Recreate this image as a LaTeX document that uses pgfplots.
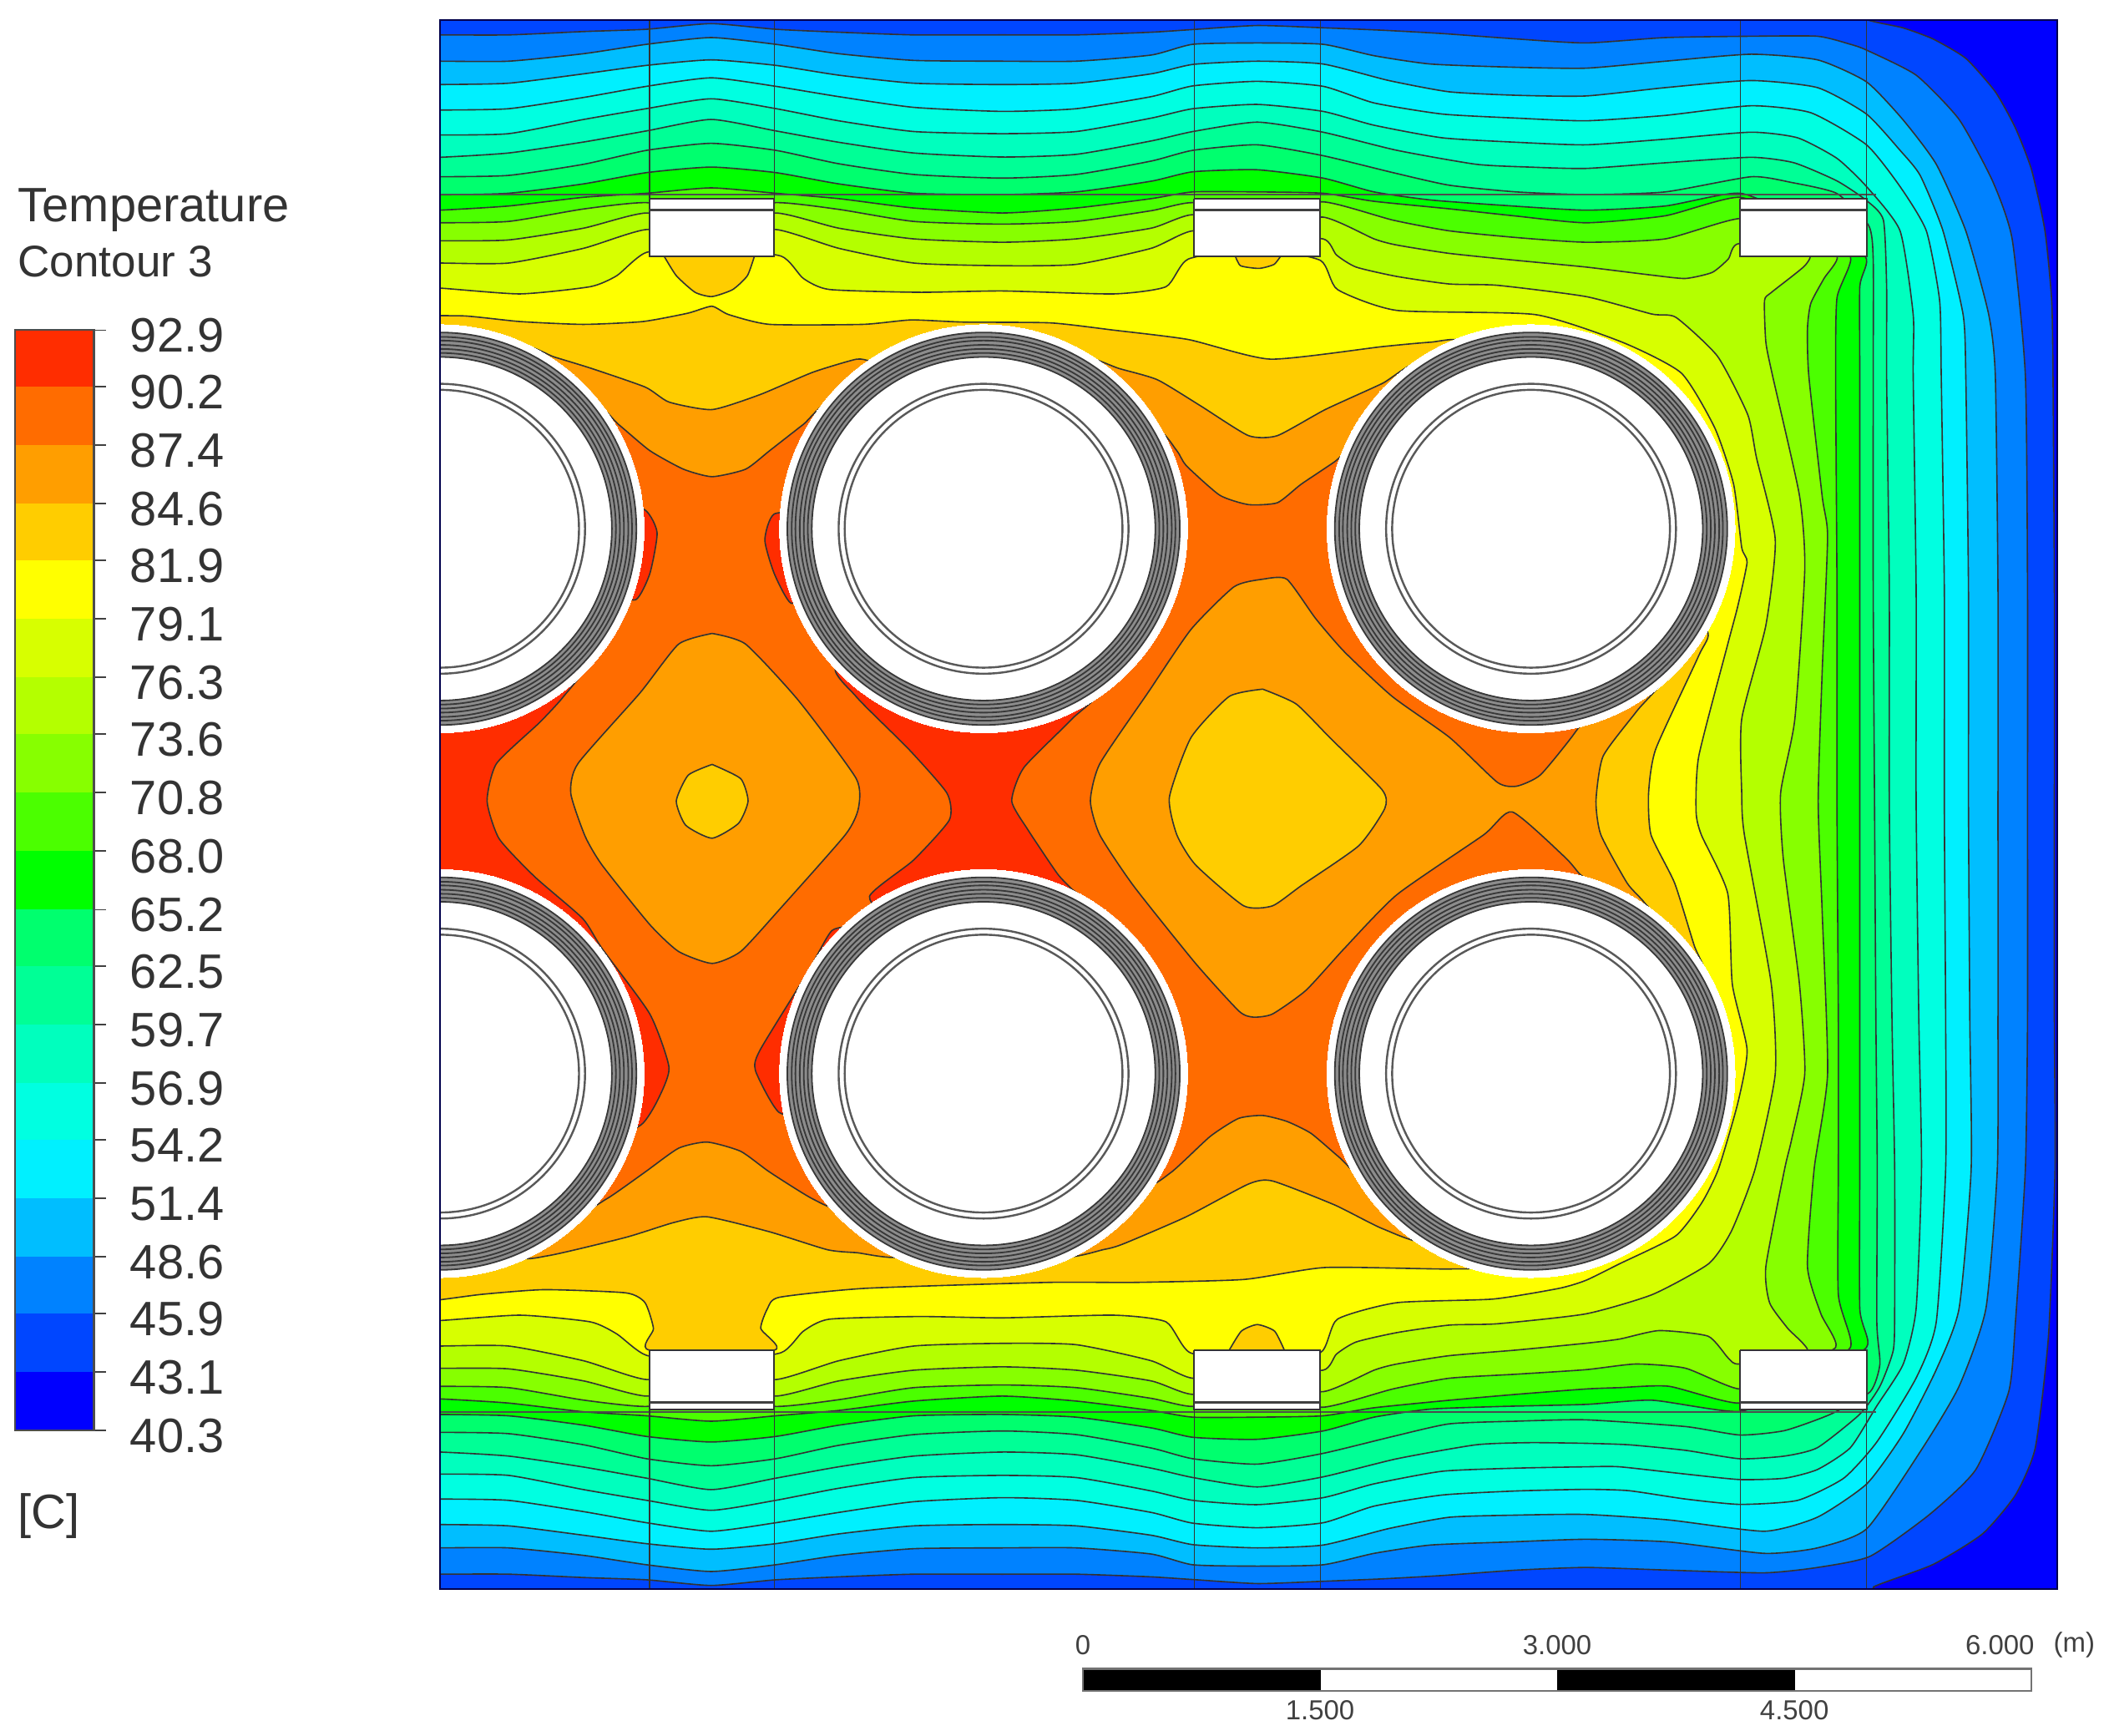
\documentclass[border=0pt]{standalone}
\usepackage{fontspec}
\setmainfont{Liberation Sans}
\usepackage{pgfplots}
\usepackage{pgfplotstable}
\pgfplotsset{compat=1.18}
\definecolor{b40}{RGB}{0,0,255}
\definecolor{b43}{RGB}{0,70,255}
\definecolor{b46}{RGB}{0,130,255}
\definecolor{b49}{RGB}{0,190,255}
\definecolor{b51}{RGB}{0,240,255}
\definecolor{b54}{RGB}{0,255,225}
\definecolor{b57}{RGB}{0,255,190}
\definecolor{b60}{RGB}{0,255,150}
\definecolor{b62}{RGB}{0,255,110}
\definecolor{b65}{RGB}{0,255,0}
\definecolor{b68}{RGB}{75,255,0}
\definecolor{b71}{RGB}{135,255,0}
\definecolor{b74}{RGB}{180,255,0}
\definecolor{b76}{RGB}{215,255,0}
\definecolor{b79}{RGB}{255,255,0}
\definecolor{b82}{RGB}{255,205,0}
\definecolor{b85}{RGB}{255,158,0}
\definecolor{b87}{RGB}{255,108,0}
\definecolor{b90}{RGB}{255,45,0}
\pgfplotstableread{
x y
328 394
733 394
1141 394
328 800
733 800
1141 800
}\pipes
\pgfplotsset{
  lev/.style={smooth,tension=0.35,fill=#1,draw=black!80,line width=0.4pt,no markers},
  geo/.style={draw=black!80,line width=0.4pt,no markers},
  box/.style={fill=white,draw=black!80,line width=0.5pt,no markers},
  ring/.style={only marks,mark=o,mark size=#1,mark options={draw=black!78,line width=0.45pt}},
  iring/.style={only marks,mark=o,mark size=#1,mark options={draw=black!65,line width=0.6pt}},
}
\newcommand{\tsz}{\fontsize{14.4}{17}\selectfont}
\begin{document}
\begin{tikzpicture}[x=1pt,y=1pt]
\path[use as bounding box] (0,0) rectangle (627.2,517.2);
% ------------------------------------------------ field
\begin{axis}[at={(131.2pt,43.6pt)},anchor=south west,scale only axis,width=482pt,height=467.6pt,
  xmin=328,xmax=1533,ymin=15,ymax=1184,y dir=reverse,xtick=\empty,ytick=\empty,
  axis line style={draw=black!70!blue,line width=0.5pt},clip=true,clip marker paths=true,axis on top]
\addplot[fill=b40,draw=none,no markers] coordinates {(300,0)(1560,0)(1560,1200)(300,1200)};
\addplot[lev=b43] coordinates {(300,0)(1370,0)(1391,14.5)(1418,20.7)(1440.5,29)(1465,43.5)(1487,68.4)(1502,95.4)(1514,126.5)(1524,172)(1529,224)(1530,280)(1531,440)(1531,600)(1531,760)(1531.5,871)(1526.6,995.7)(1516.8,1078.7)(1502,1114)(1477.4,1143)(1440.5,1165.8)(1396.3,1182.4)(1370,1200)(300,1200)};
\addplot[lev=b46] coordinates {(300,26)(328,26)(379,26)(435,23.5)(482,21.8)(530,17.6)(578,21.8)(625,24)(681,26)(747,26)(802,26)(858,24)(889,22)(937,19)(986,20.7)(1030,22.5)(1075,25)(1130,29)(1182,32)(1241,28)(1305,27)(1354.5,27)(1379,33)(1391,37.3)(1428,56)(1460,89)(1485,135)(1499.6,178.4)(1509.4,280)(1511,440)(1511,600)(1511,760)(1509.4,871)(1502,985)(1497,1037)(1472.5,1095)(1438,1128.5)(1393.8,1159.6)(1354.5,1168)(1315,1172)(1243.8,1170)(1182,1168)(1130,1170)(1075,1174)(1030,1176.5)(986,1178.3)(937,1180)(889,1177)(858,1175)(802,1173)(747,1173)(681,1173)(625,1175)(578,1177.2)(530,1181.4)(482,1177.2)(435,1175.5)(379,1173)(328,1173)(300,1173)};
\addplot[lev=b49] coordinates {(300,45.6)(328,45.6)(379,45.6)(435,40)(482,33)(530,28)(578,33)(625,40)(681,45)(747,45.6)(802,45.6)(858,41)(889,33)(937,32)(986,33)(1024,41.5)(1066,47.7)(1125,50)(1182,50.8)(1241,45.6)(1305,40.4)(1354.5,44.6)(1391,61)(1418,89)(1443,122.4)(1465,172)(1482,234)(1487,280)(1489,440)(1489,600)(1489,760)(1488.5,871)(1480,975)(1460,1033)(1433,1078.7)(1391.3,1139)(1354.5,1153.4)(1315,1157.5)(1243.8,1149)(1182,1147)(1125,1149)(1066,1151.3)(1024,1157.5)(986,1166)(937,1167)(889,1166)(858,1158)(802,1153.4)(747,1153.4)(681,1154)(625,1159)(578,1166)(530,1171)(482,1166)(435,1159)(379,1153.4)(328,1153.4)(300,1153.4)};
\addplot[lev=b51] coordinates {(300,63)(328,63)(379,62)(435,55)(482,48.7)(530,44.6)(578,48.7)(625,56)(681,62)(747,63)(802,62)(858,55)(889,48)(937,45.6)(986,47.7)(1035,60)(1080,68.4)(1130,71)(1182,71.5)(1241,65.3)(1305,60)(1354.5,65.3)(1391,85)(1416,112)(1431,130.7)(1448,172)(1463,234.4)(1465,280)(1467,440)(1467,600)(1468,760)(1469,871)(1460,975)(1443,1020.6)(1418.4,1068.3)(1391.3,1105.6)(1354.5,1130.5)(1315,1141)(1243.8,1132.6)(1182,1128.5)(1130,1129)(1080,1130.6)(1035,1139)(986,1151.3)(937,1153.4)(889,1151)(858,1144)(802,1137)(747,1136)(681,1137)(625,1143)(578,1150.3)(530,1154.4)(482,1150.3)(435,1144)(379,1137)(328,1136)(300,1136)};
\addplot[lev=b54] coordinates {(300,82)(328,82)(379,81)(435,72.6)(482,64.3)(530,58)(578,64.3)(625,72)(681,80)(747,83)(802,81)(858,72)(889,64)(937,60.6)(986,64.3)(1024,76.7)(1075,85)(1130,88)(1182,90)(1241,86)(1305,78.8)(1349.5,84)(1391,107.9)(1416,139)(1435.6,172)(1445.5,224)(1446.7,280)(1449,440)(1449,600)(1450,760)(1450,871)(1443,985)(1428,1026.8)(1398.7,1074.5)(1374,1101.5)(1339.7,1118)(1296.6,1121)(1256,1117)(1214,1110.8)(1182,1109.8)(1130,1111)(1075,1114)(1024,1122.3)(986,1134.7)(937,1138.4)(889,1135)(858,1127)(802,1118)(747,1116)(681,1119)(625,1127)(578,1134.7)(530,1141)(482,1134.7)(435,1126.4)(379,1118)(328,1117)(300,1117)};
\addplot[lev=b57] coordinates {(300,100.6)(328,100.6)(379,99.6)(435,89)(482,80.9)(530,73.6)(578,80.9)(625,90)(681,98)(747,99.6)(802,98)(858,88)(889,81)(937,77.8)(986,83)(1024,93.3)(1075,102.7)(1130,106)(1182,107.9)(1241,103.7)(1305,98.5)(1339.7,102.7)(1369,118)(1391,139)(1416,172)(1425.8,234.4)(1425.8,280)(1428,440)(1428,600)(1430,760)(1432,871)(1428,975)(1418.4,1016.4)(1398.7,1047.6)(1379,1078.7)(1354.5,1095)(1330,1101.5)(1296.6,1102.5)(1256,1098.4)(1207,1093)(1182,1093)(1130,1094)(1075,1096.3)(1024,1105.7)(986,1116)(937,1121.2)(889,1118)(858,1111)(802,1101)(747,1099.4)(681,1101)(625,1109)(578,1118)(530,1125.4)(482,1118)(435,1110)(379,1099.4)(328,1098.4)(300,1098.4)};
\addplot[lev=b60] coordinates {(300,117.2)(328,117.2)(379,114)(435,105.8)(482,97.5)(530,89)(578,97.5)(625,106)(681,114)(747,117)(802,115)(858,105)(889,98)(937,91)(986,98.5)(1041,112)(1100,122.4)(1140,124.5)(1182,125.5)(1241,121.3)(1305,117.2)(1337,121.3)(1369,134.8)(1391,149.4)(1403.6,164)(1406,213.7)(1406,280)(1408,440)(1408,600)(1410,760)(1412,871)(1412,975)(1411,1006)(1401,1033)(1386,1053.8)(1354.5,1078.7)(1330,1085)(1296.6,1087)(1256,1080.7)(1214,1076.6)(1182,1075.5)(1140,1075)(1100,1076.6)(1041,1087)(986,1100.5)(937,1108)(889,1101)(858,1094)(802,1084)(747,1082)(681,1085)(625,1093)(578,1101.5)(530,1110)(482,1101.5)(435,1093.2)(379,1085)(328,1082)(300,1082)};
\addplot[lev=b62] coordinates {(300,131.7)(328,131.7)(379,130.7)(435,122.4)(482,112)(530,106.8)(578,112)(625,122)(681,130)(747,132.7)(802,130)(858,120)(889,112)(937,107.9)(986,116)(1038,128.6)(1080,138)(1130,143)(1182,145)(1241,143)(1305,131.7)(1334.8,135.9)(1369,144.2)(1392.6,168)(1396,193)(1396,280)(1396,440)(1397,600)(1398,760)(1399,871)(1398.7,985)(1401,1016.4)(1393.8,1037)(1364.3,1053.8)(1330,1066)(1296.6,1069.3)(1256,1063)(1182,1058)(1130,1059)(1080,1061)(1038,1070.4)(986,1083)(937,1091)(889,1087)(858,1079)(802,1069)(747,1066.3)(681,1069)(625,1077)(578,1087)(530,1092.2)(482,1087)(435,1076.6)(379,1068.3)(328,1067.3)(300,1067.3)};
\addplot[lev=b65] coordinates {(300,145.2)(328,145.2)(379,144)(435,137)(482,128.6)(530,124.5)(578,128.6)(625,137)(681,144)(747,145)(802,143)(858,135)(889,128)(937,126.5)(986,132.7)(1024,143)(1066,149)(1120,153)(1182,156.6)(1241,153.5)(1297,144)(1345,165)(1390,191)(1386,213.6)(1386,280)(1386,440)(1386,600)(1386,760)(1386,871)(1386,975)(1391,1004)(1345,1030)(1297,1051.7)(1231.5,1043.4)(1182,1046.5)(1120,1048)(1066,1050)(1024,1056)(986,1066.3)(937,1072.5)(889,1071)(858,1064)(802,1056)(747,1054)(681,1055)(625,1062)(578,1070.4)(530,1074.5)(482,1070.4)(435,1062)(379,1055)(328,1054)(300,1054)};
\addplot[lev=b68] coordinates {(300,156.6)(328,156.6)(379,153.5)(435,147)(482,144)(530,140)(578,144)(625,148)(681,155)(747,158.7)(802,155)(858,148)(889,143)(937,143)(986,144)(1024,150)(1080,155.6)(1130,161)(1182,166)(1241,160.8)(1297,147)(1345,170)(1379,191)(1369,222)(1368,280)(1369,440)(1369,600)(1370,760)(1370,871)(1370,964.6)(1379,1004)(1340,1025)(1296.6,1045.5)(1243.8,1033)(1207,1034)(1182,1035)(1130,1039)(1080,1043.4)(1024,1049)(986,1055)(937,1056)(889,1056)(858,1051)(802,1044)(747,1040.3)(681,1044)(625,1051)(578,1055)(530,1059)(482,1055)(435,1052)(379,1045.5)(328,1042.4)(300,1042.4)};
\addplot[lev=b71] coordinates {(300,166)(328,166)(379,165)(435,155.7)(482,151)(530,160)(578,151)(625,156)(681,165)(747,167)(802,165)(858,157)(889,151)(937,160)(986,150.4)(1038,164)(1080,172)(1130,177)(1182,180.5)(1241,178)(1297,162.8)(1340,175)(1369,191)(1359.4,207.4)(1349.5,226)(1347,245)(1348,280)(1358,370)(1362,400)(1358,500)(1355,597)(1358,680)(1362,800)(1352,871)(1347,943.8)(1357,979)(1368,1004)(1330,1020)(1296.6,1035)(1256,1019.5)(1219,1016.4)(1182,1020.6)(1130,1024)(1080,1027)(1038,1035)(986,1048.6)(937,1040)(889,1048)(858,1042)(802,1034)(747,1032)(681,1034)(625,1043)(578,1048)(530,1040)(482,1048)(435,1043.3)(379,1034)(328,1033)(300,1033)};
\addplot[lev=b74] coordinates {(300,179.4)(328,179.4)(379,178.8)(435,170)(482,158.7)(530,170)(578,158.7)(625,170)(681,178)(747,180.5)(802,178)(858,170)(889,160)(937,170)(986,161.8)(1024,178)(1041,182.6)(1080,188.8)(1130,194)(1182,199)(1231,205)(1256,207.5)(1276,203)(1288,193)(1296,181.5)(1347,188)(1345,198)(1320,218)(1315,224)(1316,255)(1321,280)(1341,369)(1345,424)(1337.6,535.8)(1327,591)(1329,640)(1341,733)(1345,800)(1335,850)(1330,871)(1316,943.8)(1318.8,970.8)(1332,989.5)(1347,1008)(1296.6,1016.4)(1288,1012)(1273,995.7)(1236.4,991.5)(1207,997.8)(1182,1000.9)(1130,1006)(1080,1010.2)(1041,1016.4)(1024,1021)(986,1037)(937,1030)(889,1039)(858,1029)(802,1021)(747,1018.5)(681,1021)(625,1029)(578,1040.3)(530,1030)(482,1040.3)(435,1029)(379,1020)(328,1019.6)(300,1019.6)};
\addplot[lev=b76] coordinates {(300,196)(328,196)(379,196)(435,185)(482,171)(530,178)(578,171)(625,185)(681,196)(747,198)(802,197)(858,185)(889,172)(937,178)(986,178)(996,190)(1010.6,199)(1041,206)(1080,211.6)(1116,212.6)(1182,221)(1231,234)(1249,236.5)(1280,265.5)(1302.5,309)(1309,341)(1323,402)(1316,466)(1298,535.8)(1298,591)(1300,622)(1320,733)(1323,800)(1308,871)(1290.5,917)(1273.3,941.7)(1231.5,964.6)(1182,979)(1116,986.4)(1080,987.4)(1041,993)(1010.6,1000)(996,1009)(986,1021)(937,1020)(889,1027)(858,1014)(802,1002)(747,1001)(681,1003)(625,1014)(578,1028)(530,1020)(482,1028)(435,1014)(379,1003)(328,1003)(300,1003)};
\addplot[lev=b79] coordinates {(300,214.7)(328,214.7)(387.5,219)(440,213.6)(459.7,205.4)(482,188)(530,185)(582,190.8)(598.6,207.4)(618,215.7)(684.7,217.8)(747,216.8)(830,219)(869,213.6)(885.6,193)(937,185)(984,194)(996.7,215.7)(1041,231.3)(1144,234.4)(1209,255)(1253,278)(1278,319)(1292,361)(1298,408)(1302,419)(1295,452)(1287.6,480)(1266,563.5)(1264,605)(1268,622.3)(1287.6,665.8)(1291,733.4)(1302,782.3)(1295,822.3)(1280.7,871)(1268.4,896)(1248.7,921)(1207,941.7)(1182,954)(1162,960)(1112.6,968)(1041,970.7)(996.7,983)(984,1008)(937,1015)(887,1008)(869,985)(830,980)(747,982)(684.7,981)(618,983)(598.6,992)(582,1008)(530,1015)(482,1010)(459.7,994)(440,985)(387.5,980)(328,984)(300,984)};
\addplot[lev=b82] coordinates {(300,235.4)(346,235.4)(387.5,239.6)(434.7,241.7)(479,239.6)(512.5,233.4)(530.5,228.2)(543,234.4)(573.6,241.7)(643,241.7)(679,238.4)(718,240)(783,240.6)(830,246)(885.6,253)(946.7,267.6)(1030,258.3)(1066,255)(1090,255)(1105,300)(1141,394)(1230,440)(1272,470)(1266,488.5)(1234,558)(1228.6,591)(1230.4,622)(1248,658)(1262.6,704.5)(1272,730)(1250,760)(1141,800)(1120,900)(1105,942)(1080.4,945.6)(987.6,944.5)(927,953.4)(845,955.6)(780.7,955.6)(645,960)(580.7,966.7)(572,975)(567,990)(577,1006)(484,1006)(487,990)(480.7,970.7)(466.5,963.4)(405.7,961)(359,964.5)(323.6,969)(300,969)};
% lenses under the boxes
\addplot[lev=b82] coordinates {(494.4,190)(504,205.4)(518,217.8)(530.5,221)(546,215.8)(557,205.4)(562.5,190)};
\addplot[lev=b82] coordinates {(920.3,190)(924.5,198)(938.4,200)(949.5,197)(955,190)};
\addplot[lev=b82] coordinates {(915,1008)(925,992)(937,987)(950,992)(958,1008)};
\addplot[lev=b85] coordinates {(328,394)(370,300)(390,259)(413,266)(441,274.6)(481,288.5)(498.6,299.6)(530.7,305.2)(566.5,294)(605.7,277.4)(638,267.7)(648.6,269)(670,272)(690,310)(733,394)(790,300)(805,266)(834,274.6)(862.6,283)(894.7,302.4)(930.4,324.6)(952,324.6)(987.6,305.2)(1030,285.8)(1060,270)(1100,310)(1141,394)(1210,460)(1245,497)(1219.7,530)(1194.7,563.5)(1189.4,596.9)(1193,622)(1212.6,658)(1225,672)(1245,700)(1210,740)(1141,800)(1100,880)(1065,925)(1030.4,915.6)(994.7,897.9)(948.3,880)(930.4,882.3)(884,906.7)(837.6,926.7)(823,931)(790,935)(770,880)(733,800)(695,880)(675,935)(638,933.4)(616.5,931.2)(573.6,917.9)(527,906.7)(502,911)(466.5,922)(409,935.6)(385,935)(365,880)(328,800)(300,800)(300,394)};
\addplot[lev=b87] coordinates {(328,394)(400,340)(440,300)(461,316.3)(484.3,335.8)(509.3,349.6)(530.7,355.2)(555.7,349.6)(573.6,335.8)(598.6,316.3)(620,300)(660,340)(733,394)(810,350)(860,320)(877,335.8)(884,346.9)(909,369)(930.4,376)(952,374.6)(969.7,360.8)(994.7,344)(1020,325)(1060,350)(1141,394)(1170,480)(1185,525)(1173,546.9)(1148,577.4)(1130.4,585.8)(1116,583)(1080.4,549.6)(1037.6,519)(1002,485.8)(980.4,460.8)(959,431.6)(941,431.6)(919.7,437.2)(887.6,469)(855.4,516.3)(819.7,569)(812.6,596.9)(819.7,622.3)(844.7,660)(891,717.9)(923.3,753.4)(934,757.9)(948.3,755.6)(973.3,737.9)(1001.9,706.7)(1041,666.7)(1105.4,622.3)(1127,605)(1166,638.5)(1177,651)(1190,665)(1175,710)(1141,800)(1060,860)(1018,878)(998,862.3)(977,844.5)(959,835.6)(941,831.2)(923,833.4)(901.9,846.8)(873,873.4)(850,885)(800,860)(733,800)(660,860)(628,900)(605.7,893.4)(573.6,873.4)(552,857.9)(527,851)(505.7,855.6)(480.7,873.4)(452,893.4)(425,905)(390,860)(328,800)(300,800)(300,394)};
% cooler islands between the pipes
\addplot[lev=b85] coordinates {(530.7,472)(505.7,480)(477,516.3)(430.7,569)(425.4,591.3)(436,623)(448.6,644.5)(484.3,689)(505.7,709)(530.7,717.9)(552,709)(580.7,677.9)(630,622)(639.7,602.4)(638,580)(595,521.9)(555.7,480)(530.7,472)};
\addplot[lev=b82] coordinates {(530.7,569.6)(552,580.2)(557.5,596.9)(550.4,613.5)(530.7,624.6)(511,614.9)(504,596.9)(512.9,577.6)(530.7,569.6)};
\addplot[lev=b82] coordinates {(941,513.5)(916,519)(887.6,549.6)(871.5,594)(877,622)(891,644.5)(926.9,675)(948.3,675)(969.7,660)(1012.6,630.2)(1032,602.4)(1030,588.5)(991,549.6)(966,524.6)(941,513.5)};
% hottest regions
\addplot[lev=b90] coordinates {(328,394)(400,470)(438,492)(420,519)(402,538.5)(370,569)(363,597)(372,625)(398.6,653.4)(434.3,684.5)(448.6,706.7)(484.3,755.6)(498.6,795.6)(490,820)(478,838)(450,850)(400,840)(328,800)(300,800)(300,394)};
\addplot[lev=b90] coordinates {(450,370)(480.7,380)(489.7,397)(484.3,427.4)(473.6,447)(450,440)};
\addplot[lev=b90] coordinates {(610,380)(577,383)(570,402.4)(577,427.4)(589.7,449.6)(610,440)};
\addplot[lev=b90] coordinates {(640,690)(620,693.4)(602,724.5)(566.5,782.3)(563,797.8)(580.7,829)(610,830)(640,790)};
\addplot[lev=b90] coordinates {(733,480)(625,495)(638,519)(677,558)(705.7,591)(707.5,611)(680.7,641)(648,668)(670,690)(733,700)(815,680)(798.6,662.3)(788,651)(766.5,619)(754,597)(763,572)(798.6,536)(820,510)(733,480)};
% walls and frames of the ducts
\addplot[draw=black!70,line width=0.5pt,no markers] coordinates {(328,145)(1398,145)};
\addplot[draw=black!70,line width=0.5pt,no markers] coordinates {(328,1052)(1398,1052)};
\addplot[geo] coordinates {(484,15)(484,148)};
\addplot[geo] coordinates {(577,15)(577,148)};
\addplot[geo] coordinates {(890,15)(890,148)};
\addplot[geo] coordinates {(984,15)(984,148)};
\addplot[geo] coordinates {(1297,15)(1297,148)};
\addplot[geo] coordinates {(1391,15)(1391,148)};
\addplot[geo] coordinates {(484,1050)(484,1184)};
\addplot[geo] coordinates {(577,1050)(577,1184)};
\addplot[geo] coordinates {(890,1050)(890,1184)};
\addplot[geo] coordinates {(984,1050)(984,1184)};
\addplot[geo] coordinates {(1297,1050)(1297,1184)};
\addplot[geo] coordinates {(1391,1050)(1391,1184)};
\addplot[box] coordinates {(484,148)(577,148)(577,191)(484,191)(484,148)};
\addplot[box] coordinates {(890,148)(984,148)(984,191)(890,191)(890,148)};
\addplot[box] coordinates {(1297,148)(1391,148)(1391,191)(1297,191)(1297,148)};
\addplot[box] coordinates {(484,1006)(577,1006)(577,1050)(484,1050)(484,1006)};
\addplot[box] coordinates {(890,1006)(984,1006)(984,1050)(890,1050)(890,1006)};
\addplot[box] coordinates {(1297,1006)(1391,1006)(1391,1050)(1297,1050)(1297,1006)};
\addplot[draw=black!75,line width=0.6pt,no markers] coordinates {(484,156.5)(577,156.5)};
\addplot[draw=black!75,line width=0.6pt,no markers] coordinates {(890,156.5)(984,156.5)};
\addplot[draw=black!75,line width=0.6pt,no markers] coordinates {(1297,156.5)(1391,156.5)};
\addplot[draw=black!75,line width=0.6pt,no markers] coordinates {(484,1045)(577,1045)};
\addplot[draw=black!75,line width=0.6pt,no markers] coordinates {(890,1045)(984,1045)};
\addplot[draw=black!75,line width=0.6pt,no markers] coordinates {(1297,1045)(1391,1045)};
% pipes
\addplot[only marks,mark=*,mark size=60.8pt,mark options={fill=white,draw=white,line width=0pt}] table[x=x,y=y] {\pipes};
\addplot[only marks,mark=o,mark size=54.8pt,mark options={draw=black!45,line width=7.4pt}] table[x=x,y=y] {\pipes};
\addplot[ring=58.5pt] table[x=x,y=y] {\pipes};
\addplot[ring=57.2pt] table[x=x,y=y] {\pipes};
\addplot[ring=56.1pt] table[x=x,y=y] {\pipes};
\addplot[ring=54.8pt] table[x=x,y=y] {\pipes};
\addplot[ring=53.6pt] table[x=x,y=y] {\pipes};
\addplot[ring=52.4pt] table[x=x,y=y] {\pipes};
\addplot[ring=51.2pt] table[x=x,y=y] {\pipes};
\addplot[iring=43.2pt] table[x=x,y=y] {\pipes};
\addplot[iring=41.4pt] table[x=x,y=y] {\pipes};
\end{axis}
% ------------------------------------------------ colour bar
\begin{axis}[at={(4.4pt,90.8pt)},anchor=south west,scale only axis,width=23.6pt,height=328pt,
  xmin=0,xmax=1,ymin=40.3,ymax=92.9,xtick=\empty,
  ytick={40.3,43.1,45.9,48.6,51.4,54.2,56.9,59.7,62.5,65.2,68.0,70.8,73.6,76.3,79.1,81.9,84.6,87.4,90.2,92.9},
  yticklabels={40.3,43.1,45.9,48.6,51.4,54.2,56.9,59.7,62.5,65.2,68.0,70.8,73.6,76.3,79.1,81.9,84.6,87.4,90.2,92.9},
  ytick pos=right,yticklabel pos=right,tick align=outside,major tick length=3.6pt,
  tick style={draw=black!75,line width=0.4pt},
  yticklabel style={font=\tsz,text=black!80,anchor=west,xshift=6.0pt,yshift=-1.6pt,inner sep=1pt},
  axis line style={draw=black!70,line width=0.5pt},axis on top]
\addplot[fill=b40,draw=none,no markers] coordinates {(0,40.3)(1,40.3)(1,43.1)(0,43.1)};
\addplot[fill=b43,draw=none,no markers] coordinates {(0,43.1)(1,43.1)(1,45.9)(0,45.9)};
\addplot[fill=b46,draw=none,no markers] coordinates {(0,45.9)(1,45.9)(1,48.6)(0,48.6)};
\addplot[fill=b49,draw=none,no markers] coordinates {(0,48.6)(1,48.6)(1,51.4)(0,51.4)};
\addplot[fill=b51,draw=none,no markers] coordinates {(0,51.4)(1,51.4)(1,54.2)(0,54.2)};
\addplot[fill=b54,draw=none,no markers] coordinates {(0,54.2)(1,54.2)(1,56.9)(0,56.9)};
\addplot[fill=b57,draw=none,no markers] coordinates {(0,56.9)(1,56.9)(1,59.7)(0,59.7)};
\addplot[fill=b60,draw=none,no markers] coordinates {(0,59.7)(1,59.7)(1,62.5)(0,62.5)};
\addplot[fill=b62,draw=none,no markers] coordinates {(0,62.5)(1,62.5)(1,65.2)(0,65.2)};
\addplot[fill=b65,draw=none,no markers] coordinates {(0,65.2)(1,65.2)(1,68.0)(0,68.0)};
\addplot[fill=b68,draw=none,no markers] coordinates {(0,68.0)(1,68.0)(1,70.8)(0,70.8)};
\addplot[fill=b71,draw=none,no markers] coordinates {(0,70.8)(1,70.8)(1,73.6)(0,73.6)};
\addplot[fill=b74,draw=none,no markers] coordinates {(0,73.6)(1,73.6)(1,76.3)(0,76.3)};
\addplot[fill=b76,draw=none,no markers] coordinates {(0,76.3)(1,76.3)(1,79.1)(0,79.1)};
\addplot[fill=b79,draw=none,no markers] coordinates {(0,79.1)(1,79.1)(1,81.9)(0,81.9)};
\addplot[fill=b82,draw=none,no markers] coordinates {(0,81.9)(1,81.9)(1,84.6)(0,84.6)};
\addplot[fill=b85,draw=none,no markers] coordinates {(0,84.6)(1,84.6)(1,87.4)(0,87.4)};
\addplot[fill=b87,draw=none,no markers] coordinates {(0,87.4)(1,87.4)(1,90.2)(0,90.2)};
\addplot[fill=b90,draw=none,no markers] coordinates {(0,90.2)(1,90.2)(1,92.9)(0,92.9)};
\end{axis}
\node[anchor=base west,inner sep=0pt,font=\tsz,text=black!80] at (5.2,451.2) {Temperature};
\node[anchor=base west,inner sep=0pt,font=\fontsize{13.2}{16}\selectfont,text=black!80] at (5.2,434.8) {Contour 3};
\node[anchor=base west,inner sep=0pt,font=\tsz,text=black!80] at (5.2,61.6) {[C]};
% ------------------------------------------------ length scale
\begin{axis}[at={(322.8pt,13.2pt)},anchor=south west,scale only axis,width=282.8pt,height=6.6pt,
  xmin=0,xmax=6,ymin=0,ymax=1,xtick=\empty,ytick=\empty,clip=false,
  axis line style={draw=black!55,line width=0.6pt},axis on top]
\addplot[fill=black,draw=black,no markers] coordinates {(0,0)(1.5,0)(1.5,1)(0,1)};
\addplot[fill=black,draw=black,no markers] coordinates {(3,0)(4.5,0)(4.5,1)(3,1)};
\begin{scope}[every node/.style={font=\fontsize{8.2}{10}\selectfont,text=black!75,inner sep=0pt}]
\node at (axis cs:0,1) [yshift=7pt] {0};
\node at (axis cs:3,1) [yshift=7pt] {3.000};
\node at (axis cs:5.8,1) [yshift=7pt] {6.000};
\node at (axis cs:6.27,1) [yshift=7pt] {(m)};
\node at (axis cs:1.5,0) [yshift=-5.8pt] {1.500};
\node at (axis cs:4.5,0) [yshift=-5.8pt] {4.500};
\end{scope}
\end{axis}
\end{tikzpicture}
\end{document}
